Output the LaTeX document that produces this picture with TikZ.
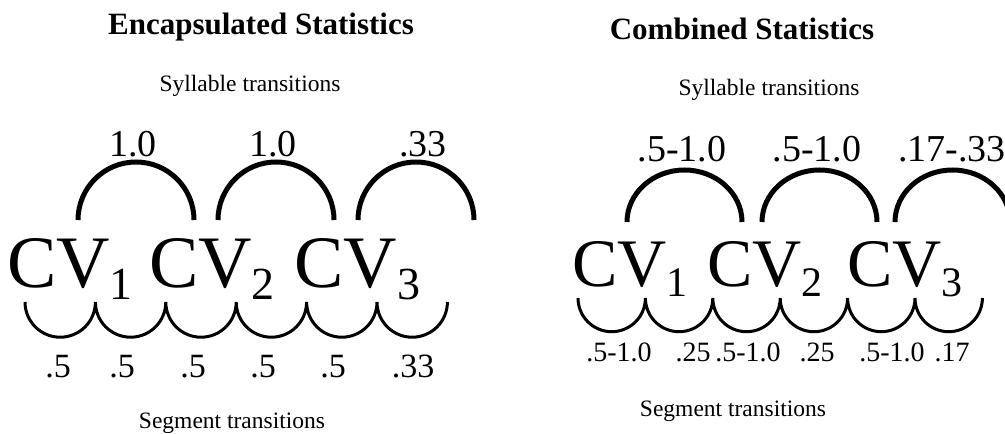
\documentclass[tikz,border=0pt]{standalone}
\usepackage{fontspec}
\setmainfont{Liberation Serif}
\usepackage{tikz}
\usetikzlibrary{positioning}
\tikzset{
    sttitle/.style={font=\fontsize{31}{36}\selectfont\bfseries, anchor=base, inner sep=0pt},
    trlbl/.style={font=\fontsize{23.5}{28}\selectfont, anchor=base, inner sep=0pt},
    syllprob/.style={font=\fontsize{38}{44}\selectfont, anchor=base, inner sep=0pt},
    segprob/.style={font=\fontsize{34}{40}\selectfont, anchor=base, inner sep=0pt},
    segprobsm/.style={font=\fontsize{28}{33}\selectfont, anchor=base, inner sep=0pt},
    cvunit/.style={font=\fontsize{74}{80}\selectfont, anchor=base west, inner sep=0pt},
    cvunitsm/.style={font=\fontsize{68}{74}\selectfont, anchor=base west, inner sep=0pt},
    syllarc/.style={line width=5pt},
    segarc/.style={line width=3pt},
}
\begin{document}
\begin{tikzpicture}[x=1pt,y=1pt]
        \useasboundingbox (0,0) rectangle (1005,434);
        % Encapsulated
        \node[sttitle] (enctitle) at (261,399) {Encapsulated Statistics};
        \node[trlbl] (encsyll) at (250,342) {Syllable transitions};
        \node[cvunit] (ecv1) at (7,146)   {CV\raisebox{-12pt}{\fontsize{46}{46}\selectfont 1}};
        \node[cvunit] (ecv2) at (149,146) {CV\raisebox{-12pt}{\fontsize{46}{46}\selectfont 2}};
        \node[cvunit] (ecv3) at (294,146) {CV\raisebox{-12pt}{\fontsize{46}{46}\selectfont 3}};
        \draw[syllarc] (78,214)  arc[start angle=180, end angle=0, radius=58];
        \draw[syllarc] (218,214) arc[start angle=180, end angle=0, radius=58];
        \draw[syllarc] (358,214) arc[start angle=180, end angle=0, radius=58];
        \node[syllprob] (es1) at (133,277) {1.0};
        \node[syllprob] (es2) at (273,277) {1.0};
        \node[syllprob] (es3) at (423,277) {.33};
        \draw[segarc] (25,132) arc[start angle=180, end angle=360, radius=35.2]
            arc[start angle=180, end angle=360, radius=35.2]
            arc[start angle=180, end angle=360, radius=35.2]
            arc[start angle=180, end angle=360, radius=35.2]
            arc[start angle=180, end angle=360, radius=35.2]
            arc[start angle=180, end angle=360, radius=35.2];
        \node[segprob] (eg1) at (58,56)  {.5};
        \node[segprob] (eg2) at (122,56) {.5};
        \node[segprob] (eg3) at (193,56) {.5};
        \node[segprob] (eg4) at (263,56) {.5};
        \node[segprob] (eg5) at (333,56) {.5};
        \node[segprob] (eg6) at (413,56) {.33};
        \node[trlbl] (encseg) at (232,5) {Segment transitions};
        % Combined
        \node[sttitle] (comtitle) at (742,394) {Combined Statistics};
        \node[trlbl] (comsyll) at (769,338) {Syllable transitions};
        \node[cvunitsm] (ccv1) at (572,147) {CV\raisebox{-10pt}{\fontsize{42}{42}\selectfont 1}};
        \node[cvunitsm] (ccv2) at (707,147) {CV\raisebox{-10pt}{\fontsize{42}{42}\selectfont 2}};
        \node[cvunitsm] (ccv3) at (847,147) {CV\raisebox{-10pt}{\fontsize{42}{42}\selectfont 3}};
        \draw[syllarc] (627,212) arc[start angle=180, end angle=0, x radius=57.5, y radius=52];
        \draw[syllarc] (762,212) arc[start angle=180, end angle=0, x radius=57.5, y radius=52];
        \draw[syllarc] (895,212) arc[start angle=180, end angle=0, x radius=57.5, y radius=52];
        \node[syllprob] (cs1) at (682,272) {.5-1.0};
        \node[syllprob] (cs2) at (817,272) {.5-1.0};
        \node[syllprob] (cs3) at (952,272) {.17-.33};
        \draw[segarc] (578,136) arc[start angle=180, end angle=360, radius=33.7]
            arc[start angle=180, end angle=360, radius=33.7]
            arc[start angle=180, end angle=360, radius=33.7]
            arc[start angle=180, end angle=360, radius=33.7]
            arc[start angle=180, end angle=360, radius=33.7]
            arc[start angle=180, end angle=360, radius=33.7];
        \node[segprobsm] (cg1) at (619,72) {.5-1.0};
        \node[segprobsm] (cg2) at (693,72) {.25};
        \node[segprobsm] (cg3) at (748,72) {.5-1.0};
        \node[segprobsm] (cg4) at (817,72) {.25};
        \node[segprobsm] (cg5) at (892,72) {.5-1.0};
        \node[segprobsm] (cg6) at (952,72) {.17};
        \node[trlbl] (comseg) at (733,17) {Segment transitions};
    \end{tikzpicture}
\end{document}
